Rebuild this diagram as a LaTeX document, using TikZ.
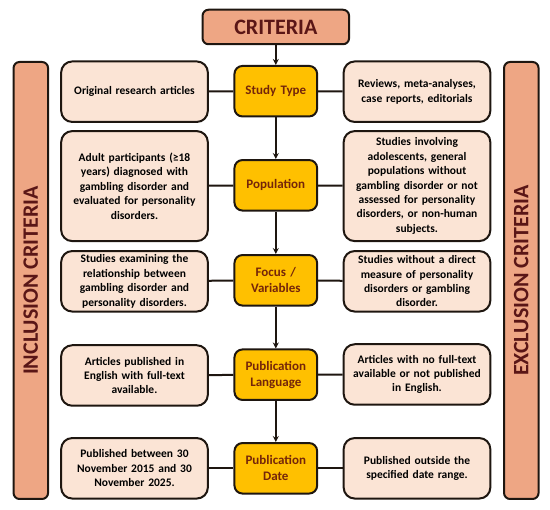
\documentclass[tikz,border=0pt]{standalone}
\usepackage{fontspec}
\setmainfont{Carlito}
\usetikzlibrary{arrows.meta}
\definecolor{edgeclr}{HTML}{1E1610}
\definecolor{paleclr}{HTML}{FBE4D5}
\definecolor{goldclr}{HTML}{FFC000}
\definecolor{salmonclr}{HTML}{EEA684}
\definecolor{headclr}{HTML}{5A1616}
\definecolor{topicclr}{HTML}{74250A}

\begin{document}
\begin{tikzpicture}[x=1pt, y=-1pt, >={Stealth[length=6pt,width=6pt]},
  line width=2pt, draw=edgeclr,
  sidebox/.style={draw=edgeclr, fill=paleclr, rounded corners=11pt,
    minimum width=145.5pt, minimum height=60.5pt, text width=140pt, align=center,
    font=\fontsize{11.5}{14.4}\selectfont\bfseries},
  topic/.style={draw=edgeclr, fill=goldclr, rounded corners=8pt,
    minimum width=79.5pt, minimum height=50.5pt, text width=76pt, align=center,
    text=topicclr, font=\fontsize{13}{15.7}\selectfont\bfseries},
  banner/.style={draw=edgeclr, fill=salmonclr, rounded corners=6pt,
    text=headclr, font=\fontsize{22}{26}\selectfont\bfseries},
  link/.style={draw=edgeclr, line width=2pt}]
  \useasboundingbox (0,0) rectangle (550,510);

  % heading and the two side bars
  \node[banner, minimum width=146.5pt, minimum height=34.5pt] (C) at (275.8,27) {CRITERIA};
  \node[banner, minimum width=34.5pt, minimum height=437pt] (IB) at (30.8,280.5) {};
  \node[banner, minimum width=34.5pt, minimum height=437pt] (EB) at (521.3,280.5) {};
  \node[text=headclr, font=\fontsize{22}{26}\selectfont\bfseries, rotate=90] at (IB.center) {INCLUSION CRITERIA};
  \node[text=headclr, font=\fontsize{22}{26}\selectfont\bfseries, rotate=90] at (EB.center) {EXCLUSION CRITERIA};

  % central column
  \node[topic] (T1) at (275.8,91.2)  {Study Type};
  \node[topic] (T2) at (275.8,185.3) {Population};
  \node[topic] (T3) at (275.8,280.3) {Focus /\\Variables};
  \node[topic] (T4) at (275.8,374.7) {Publication\\Language};
  \node[topic] (T5) at (275.8,468.3) {Publication\\Date};

  % inclusion side
  \node[sidebox] (I1) at (134.5,91.7) {Original research articles};
  \node[sidebox, minimum height=110pt] (I2) at (134.5,186.1)
    {Adult participants (≥18\\years) diagnosed with\\gambling disorder and\\evaluated for personality\\disorders.};
  \node[sidebox] (I3) at (134.5,281.3)
    {Studies examining the\\relationship between\\gambling disorder and\\personality disorders.};
  \node[sidebox] (I4) at (134.5,375.5)
    {Articles published in\\English with full-text\\available.};
  \node[sidebox] (I5) at (134.5,468.3)
    {Published between 30\\November 2015 and 30\\November 2025.};

  % exclusion side
  \node[sidebox] (E1) at (417,91.7) {Reviews, meta-analyses,\\case reports, editorials};
  \node[sidebox, minimum height=110pt] (E2) at (417,186.1)
    {Studies involving\\adolescents, general\\populations without\\gambling disorder or not\\assessed for personality\\disorders, or non-human\\subjects.};
  \node[sidebox] (E3) at (417,281.3)
    {Studies without a direct\\measure of personality\\disorders or gambling\\disorder.};
  \node[sidebox] (E4) at (417,374.5)
    {Articles with no full-text\\available or not published\\in English.};
  \node[sidebox] (E5) at (417,468.3)
    {Published outside the\\specified date range.};

  \path[->, link] (C) edge (T1);
  \foreach \a/\b in {1/2, 2/3, 3/4, 4/5}
    \path[->, link] (T\a) edge (T\b);
  \foreach \k in {1,...,5} {
    \path[link] (I\k) edge (T\k);
    \path[link] (T\k) edge (E\k);
  }
\end{tikzpicture}
\end{document}
